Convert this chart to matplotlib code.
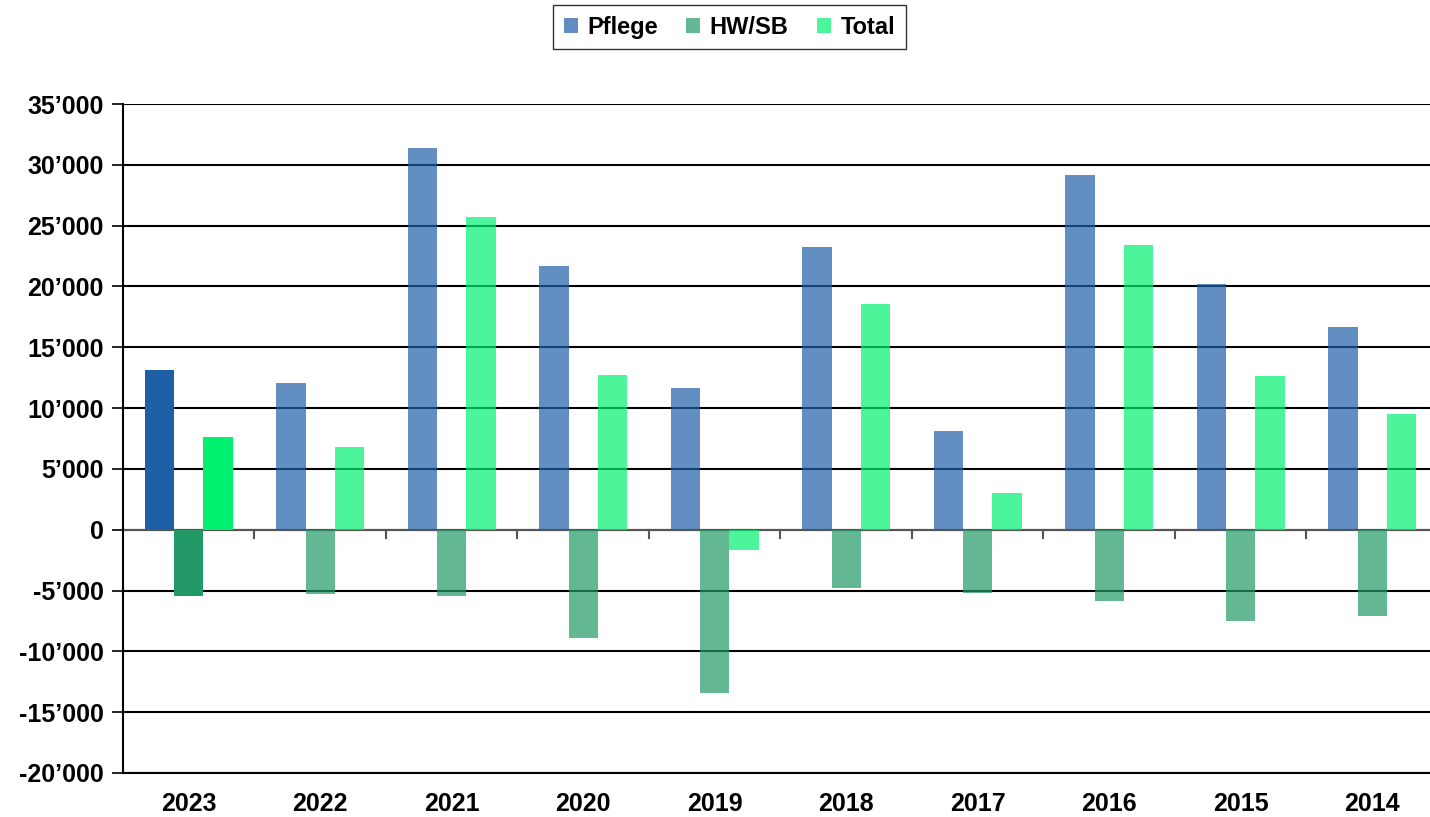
import matplotlib
matplotlib.use("Agg")
import matplotlib.pyplot as plt
import numpy as np
from matplotlib.ticker import FuncFormatter
from matplotlib.patches import Patch

years = ["2023", "2022", "2021", "2020", "2019", "2018", "2017", "2016", "2015", "2014"]
pflege = [13100, 12050, 31400, 21700, 11650, 23250, 8100, 29200, 20200, 16650]
hwsb = [-5450, -5300, -5450, -8900, -13400, -4800, -5200, -5870, -7500, -7100]
total = [7600, 6800, 25700, 12700, -1680, 18550, 3000, 23400, 12600, 9500]

series_names = ["Pflege", "HW/SB", "Total"]
colors = ["#1F5FA8", "#229966", "#00F070"]
light_alpha = 0.7

plt.rcParams['font.family'] = ['Liberation Sans', 'DejaVu Sans']
fig = plt.figure(figsize=(14.3, 8.17), dpi=100)
ax = fig.add_axes([123/1430, 1-773/817, (1438-123)/1430, (773-104)/817])

n = len(years)
x = np.arange(n)
w = 1/4.5
for i, (vals, c) in enumerate(zip([pflege, hwsb, total], colors)):
    offs = (i - 1) * w
    for j in range(n):
        a = 1.0 if j == 0 else light_alpha
        ax.bar(x[j] + offs, vals[j], width=w, color=c, alpha=a, linewidth=0, zorder=2)

ax.set_xlim(-0.5, n - 0.5)
ax.set_ylim(-20000, 35000)
ax.set_yticks(np.arange(-20000, 35001, 5000))
ax.yaxis.set_major_formatter(FuncFormatter(lambda v, p: f"{int(v):,}".replace(",", "\u2019")))
ax.grid(axis='y', color='black', linewidth=1.5, zorder=0)
ax.set_axisbelow(True)
for s in ['top', 'right']:
    ax.spines[s].set_visible(False)
ax.spines['left'].set_linewidth(1.5)
ax.spines['bottom'].set_linewidth(1.5)
ax.tick_params(axis='y', length=8, width=1.2, direction='out', labelsize=18, pad=6)
for lbl in ax.get_yticklabels():
    lbl.set_fontweight('bold')

# category labels
ax.set_xticks(x)
ax.set_xticklabels(years, fontsize=18, fontweight='bold')
ax.tick_params(axis='x', length=0, pad=14)

# zero line with category boundary ticks
ax.axhline(0, color='#555555', linewidth=1.5, zorder=1)
for b in np.arange(0.5, n - 0.5, 1):
    ax.plot([b, b], [0, -700], color='#555555', linewidth=1.5, zorder=1, clip_on=False)

handles = [Patch(facecolor=c, alpha=light_alpha) for c in colors]
leg = fig.legend(handles, series_names, loc='upper center', bbox_to_anchor=(729.5/1430, 1-5/817),
                 ncol=3, frameon=True, fancybox=False, edgecolor='black',
                 prop={'weight': 'bold', 'size': 17}, handlelength=0.6, handleheight=0.6,
                 handletextpad=0.4, columnspacing=1.2, borderpad=0.45, borderaxespad=0)
leg.get_frame().set_linewidth(1.0)

fig.savefig("out.png", dpi=100)
